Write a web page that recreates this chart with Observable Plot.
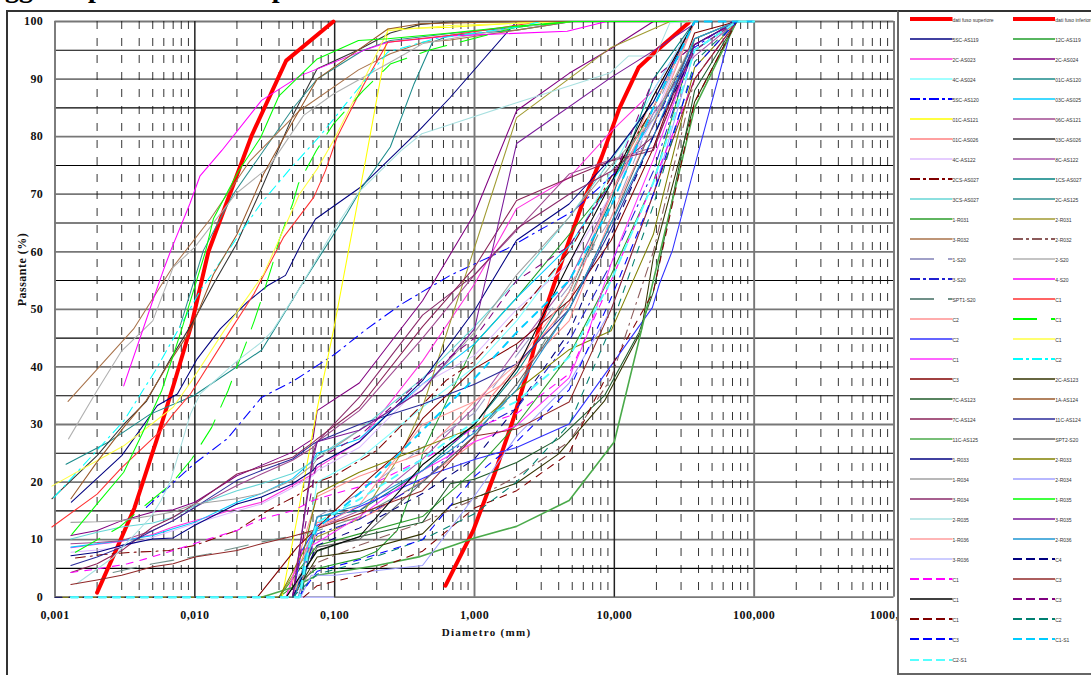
<!DOCTYPE html>
<html><head><meta charset="utf-8">
<script src="https://cdn.jsdelivr.net/npm/d3@7"></script>
<script src="https://cdn.jsdelivr.net/npm/@observablehq/plot@0.6"></script>
<style>
html,body{margin:0;padding:0;background:#fff;overflow:hidden}
#stage{position:relative;width:1091px;height:675px;overflow:hidden}
#title{position:absolute;left:-62px;top:-28px;font:bold 28px "Liberation Serif";word-spacing:5px;white-space:nowrap;line-height:32px}
#frame{position:absolute;left:6px;top:10px;width:892px;height:700px;border:solid #333;border-width:2px 0 2px 2px;box-sizing:border-box;pointer-events:none}
#legend{position:absolute;left:897px;top:10px;width:196px;height:665px;background:#fff;border:solid #666;border-width:2px 0 2px 2px;border-top-color:#333;box-sizing:border-box;overflow:hidden}
#rows{position:absolute;left:11px;top:-3px;display:grid;grid-template-columns:102.7px 90px;grid-auto-rows:20.03px;font:5px "Liberation Sans";color:#333}
.item{display:flex;align-items:center;white-space:nowrap}
.item svg{display:block;width:42.5px;height:6px;flex:none}
.item span{margin-top:1.5px}
</style></head><body><div id="stage"></div>
<script>
const titleText="Passaggi di provini di campioni";
const xTicks=[0.001,0.01,0.1,1,10,100,1000];
const xTickLabels=["0,001","0,010","0,100","1,000","10,000","100,000","1000,000"];
const yMajor=[0,10,20,30,40,50,60,70,80,90,100];
const yMinor=[5,15,25,35,45,55,65,75,85,95];
const xMinor=[2,3,4,5,6,7,8,9];
const H=[.0013,.002,.003,.005,.007,.01,.02,.03,.05,.07];
const S=[.075,.15,.425,1,2,4.75,9.5,19,37.5,75];
const onS=(lead,vals)=>[...lead,...vals.map((p,i)=>[S[i],p])];
const onHS=(low,vals)=>[...low.map((p,i)=>[H[i],p]),...vals.map((p,i)=>[S[i],p])];

const names=["dati fuso superiore","dati fuso inferiore","5SC-AS119","12C-AS119","2C-AS023","2C-AS024","4C-AS024","01C-AS120","5SC-AS120","03C-AS025","01C-AS121","06C-AS121","01C-AS026","03C-AS026","4C-AS122","8C-AS122","2CS-AS027","1CS-AS027","3CS-AS027","2C-AS125","1-R031","2-R031","3-R032","2-R032","1-S20","2-S20","3-S20","4-S20","SPT1-S20","C1","C2","C1","C2","C1","C1","C2","C3","2C-AS123","7C-AS123","1A-AS124","7C-AS124","11C-AS124","11C-AS125","SPT2-S20","1-R033","2-R033","1-R034","2-R034","3-R034","1-R035","2-R035","3-R035","1-R036","2-R036","3-R036","C4","C1","C3","C1","C3","C1","C2","C3","C1-S1","C2-S1"];
const colours=["#ff0000","#ff0000","#000080","#1f9e2a","#ff30e0","#800080","#80ffff","#1a8a8a","#0000ff","#00ccff","#ffff00","#a04a90","#ff8080","#333333","#ddbbff","#a855aa","#800000","#008080","#66d6d6","#2f8f8f","#2a9d2a","#a09a30","#a8724a","#8b5a5a","#a0a0c8","#b0b0b0","#2020d0","#ff00ff","#709088","#ff3030","#ff9090","#00ff00","#3030ff","#ffff40","#ff30ff","#00ffff","#800000","#333300","#1f5a2a","#99582a","#8a2258","#2a2a9a","#4aaa4a","#666666","#000080","#808000","#a0a0a0","#9f9fff","#8a2a6a","#00ff00","#a8e0e0","#7a1a9a","#ff9c9c","#1e96d2","#bbbbff","#000080","#ff00ff","#902828","#000000","#800080","#800000","#008070","#0000ff","#00ccff","#55ffff"];
const kinds=[,,,,,,,,"dd",,,,,,,,"dd",,,,,,,"dd","gap",,"dd",,"gap",,,"lime",,,,"dd",,,,,,,,,,,,,,,,,,,,"dash","dash",,,"dash","dash","dash","dash","dash","dash"];
const plotDash={dd:"10,5,2,5",gap:"24,14",lime:"28,14",dash:"7,7"};
const keyDash={dd:"10,3,3,3",gap:"24,14",lime:"24,14",dash:"9,4"};
const widths=names.map((n,i)=>i<2?4:(i===42||i===54)?1.6:i>=63?1.9:1.05);

const curves=[
/* fuso sup */[[.002,.8],[.00278,8.6],[.0037,15.5],[.0054,27.7],[.0072,37.6],[.0095,47.5],[.0125,60],[.0255,80.2],[.045,93.2],[.098,100]],
/* fuso inf */[[.62,2],[.98,11.6],[1.39,21.4],[1.9,31],[2.57,41.7],[2.86,46.3],[4.3,59],[5.9,68.3],[8.1,76.4],[10.9,85],[14.9,92],[19.4,94.6],[34,99.8]],
/* 5SC-AS119 */[[.00131,16.5],[.003,24.6],[.0054,33.3],[.0075,35.3],[.0104,41.4],[.0152,46.6],[.0236,51.2],[.033,54.1],[.0445,55.9],[.06,62.2],[.073,65.7],[.153,71.2],[.41,81.3],[.67,86.8],[2,100],[37.5,100]],
/* 12C-AS119 */[[.04,0],[.075,5],[.15,6.7],[.2,8],[.28,11.6],[.35,18],[.4,22],[.43,25.5],[1,44],[2,52],[4.75,63],[9.5,72],[19,85],[37.5,100]],
/* 2C-AS023 */onHS([8.6,9.2,9.7,10.9,12.2,13.3,15.4,16.5,19.4,21.4],[22.5,27,41,54.4,67.5,72.9,80.9,88,100]),
/* 2C-AS024 */onHS([10.7,11.6,13.3,14.8,15.2,16.5,21.1,22.9,25.2,27.5],[32.4,37.2,51.5,66.6,84.5,91,95.3,100]),
/* 4C-AS024 */onS([[.055,0],[.062,8]],[20,24,33,40,48,60,74,88,100]),
/* 01C-AS120 */[[.0012,23.1],[.0024,26.9],[.0048,31.8],[.0098,35],[.03,42.9],[.0366,46.3],[.0585,54.4],[.122,66.6],[.16,71.5],[.25,78.2],[.37,89.2],[.5,96.4],[.67,97.6],[2,98.5],[5,100],[37.5,100]],
/* 5SC-AS120 */[[.0045,15.6],[.0098,23.1],[.017,27.5],[.03,34.7],[.051,37.6],[.1,42.2],[.17,46.6],[.3,50.9],[.67,55.9],[1.7,60.5],[5.1,67.1],[8.5,72],[16,78.1],[35,95],[70,100]],
/* 03C-AS025 */onHS([8.7,9.3,9.8,10.7,11.9,13,16.5,18,20.6,23.8],[25,27.5,37,44,52,61,72,83,95,100]),
/* 01C-AS121 */[[.042,0],[.054,13.8],[.0745,32.4],[.098,46.3],[.166,75.8],[.22,92],[.24,98.7],[.67,99],[3,100],[37.5,100]],
/* 06C-AS121 */onHS([9.3,9.5,9.8,11.6,13.3,15.6,19.4,21.4,23.8,26],[27,32.4,45,56,63.7,73.5,76,78.1,95,100]),
/* 01C-AS026 */[[.045,0],[.075,13],[.15,13.6],[.2,15],[.425,20.3],[1,26.9],[1.3,34.7],[2,40],[4.75,51],[9.5,70],[19,87],[37.5,100]],
/* 03C-AS026 */[[.00095,17.1],[.002,24.6],[.0031,30],[.0045,34],[.0067,41.4],[.0098,48],[.0136,54.4],[.0199,61.4],[.0295,70.6],[.051,84],[.075,91.8],[.146,95],[.25,98],[.41,99.5],[.67,99.9],[5,100],[37.5,100]],
/* 4C-AS122 */onHS([7.8,8.2,8.7,10.4,11.6,12.8,15,16.2,19,21.1],[22,26,37,42,50,58,70,83,100]),
/* 8C-AS122 */onS([[.055,0]],[12,15,24,33,43,55,70,84,94,100]),
/* 2CS-AS027 */[[.0014,6.8],[.0022,7.4],[.0036,7.8],[.0065,8.1],[.01,9],[.02,11.6],[.033,15],[.054,17.7],[.075,20],[.1,21.1],[.2,25.5],[.63,37.7],[1,41],[2,49],[4.75,60],[9.5,73],[19,85],[37.5,100]],
/* 1CS-AS027 */onS([[.057,0]],[14,15,22,30,39,53,69,90,100]),
/* 3CS-AS027 */onHS([10.1,11.3,12.2,12.9,13.9,15.9,18.5,19.7,21.5,23.5],[24.5,29,38,47,55,66,76,86,100]),
/* 2C-AS125 */[[.0078,46.9],[.0115,60.2],[.0188,70],[.051,85.1],[.075,90],[.16,95],[.25,96.7],[.67,97.9],[2,99],[5,100],[37.5,100]],
/* 1-R031 */onS([[.04,0]],[9,11,14,22,30,42,56,72,97,100]),
/* 2-R031 */[[.04,0],[.075,10.5],[.15,13.6],[.3,25],[.425,33],[1,60.7],[2,83.3],[9.5,95.5],[25,100],[37.5,100]],
/* 3-R032 */[[.00124,34],[.00365,46.6],[.0068,57],[.0129,65.7],[.0248,75.8],[.056,84.5],[.148,91.6],[.25,94.4],[.43,96.4],[.67,96.8],[2,98.5],[5,100],[37.5,100]],
/* 2-R032 */onS([[.05,0]],[6,9,13,17,21,27,38,60,90,100]),
/* 1-S20 */onS([[.05,0]],[14,18,26,32,42,54,66,84,100]),
/* 2-S20 */[[.00125,27.5],[.002,35.9],[.003,42.8],[.005,48],[.007,57.3],[.01,60.8],[.0195,70],[.0338,74.7],[.06,83.7],[.098,87.4],[.3,94],[.43,96.2],[.67,97],[2,99],[5,100],[37.5,100]],
/* 3-S20 */onS([[.05,0]],[11,13.5,20,29,32.8,44.5,58,74,96,100]),
/* 4-S20 */[[.0031,36.7],[.005,51.5],[.006,57],[.0068,60.5],[.0092,68.3],[.0109,73.2],[.0156,77.6],[.03,86.3],[.057,90.6],[.17,95.2],[.24,96.4],[.67,97.5],[4.6,98.3],[8.8,100],[37.5,100]],
/* SPT1-S20 */[[.0026,4.3],[.005,5.8],[.0125,7.5],[.03,9.6],[.07,11.3],[.15,14],[.425,20],[1,28],[2,36],[4.75,52],[9.5,68],[19,85],[37.5,100]],
/* C1 red */[[.00095,12.2],[.002,17.9],[.003,22.5],[.0057,28.9],[.007,31.8],[.0093,35.3],[.0179,46.3],[.0265,52.7],[.043,62.5],[.071,69.5],[.086,74.1],[.104,79.9],[.16,88.9],[.24,96.4],[.67,97.6],[3,100],[37.5,100]],
/* C2 salmon */onS([[.045,0]],[17.5,21,25,34,38.5,48,66,82,100]),
/* C1 lime */[[.0014,7.8],[.0029,12.2],[.0045,16.1],[.0068,19.7],[.0095,24],[.0132,29.5],[.0173,35.9],[.02,40],[.0234,44.3],[.0266,48],[.03,51.8],[.036,57.9],[.04,62],[.05,68.3],[.055,71.8],[.074,77.6],[.098,82.2],[.16,88],[.25,92.6],[.47,95],[.67,96],[2,99],[5,100],[37.5,100]],
/* C2 blue */[[.05,0],[.058,8],[.075,12.5],[.1,13.9],[.2,17],[.5,21.4],[1,23.9],[2,26],[4.75,30.1],[10,41],[18.7,50.3],[21,54.4],[26,60.2],[39,76.4],[71,100]],
/* C1 yellow */[[.00095,19.3],[.0031,26.3],[.007,33],[.0095,37.6],[.0162,46.3],[.031,56.1],[.056,70],[.075,74.4],[.098,79.3],[.137,86.3],[.24,98.4],[.67,99.3],[5,100],[37.5,100]],
/* C1 magenta */[[.045,0],[.058,8],[.075,9.5],[.15,14],[.425,22],[1,27],[2,29.8],[4.75,38.1],[6.5,46],[9.5,58],[19,76],[37.5,96],[75,100]],
/* C2 cyan */[[.00098,17.3],[.0031,30.6],[.0052,39.3],[.0109,53.2],[.0195,62],[.0295,68.3],[.048,74.4],[.079,80.2],[.137,87.4],[.24,94.7],[.52,97],[2,99],[3,100],[37.5,100]],
/* C3 dark red */[[.028,0],[.054,8.7],[.1,15],[.16,19.7],[.3,25.5],[.425,31],[1,39.7],[2,44],[4.75,51.5],[9.5,62],[19,78],[37.5,98],[75,100]],
/* 2C-AS123 */[[.05,0],[.075,7],[.15,8],[.425,11],[.67,15.9],[2,19.8],[4,24.9],[8.5,34.1],[15.6,46.3],[19,59],[37.5,86],[75,100]],
/* 7C-AS123 */[[.045,0],[.075,8],[.15,10.5],[.425,13],[.67,19.7],[1,20.5],[2,23.4],[4,27.5],[8.5,35],[15,46],[19,53],[37.5,88],[75,100]],
/* 1A-AS124 */[[.0013,17.1],[.002,23.5],[.0031,29.5],[.0045,34.2],[.0067,41.1],[.0093,46.3],[.0136,56.1],[.02,63],[.031,73.5],[.046,81],[.075,90],[.24,98.7],[.41,99.6],[2,100],[37.5,100]],
/* 7C-AS124 */onHS([4.3,5.8,8.1,12.2,13.9,16.2,21.4,22.6,24.3,26.9],[27.5,33,47,57.3,68.9,72.8,75.8,77.6,96,100]),
/* 11C-AS124 */onHS([5.5,7,8.7,11.6,13.3,15.6,20.3,22,24,26.6],[27,30,33.5,37,40.5,50,64,80,96,100]),
/* 11C-AS125 */[[.03,0],[.05,1.7],[.075,3.8],[.2,5.5],[.4,7],[.7,9],[1,10.3],[2,12.3],[4.75,16.8],[10,27],[15.6,46.3],[19,55],[37.5,85],[75,100]],
/* SPT2-S20 */onS([[.05,0]],[8.7,10,20,28,37,50,65,82,97,100]),
/* 1-R033 */onHS([7.2,7.8,9,10.1,10.3,12.5,16.2,17.4,19.7,22],[23,27,37.6,49.8,62,68.3,76.3,86,100]),
/* 2-R033 */[[.001,0],[.0013,0],[.04,0],[.06,8],[.075,18],[.15,21.7],[.425,26],[1,29.5],[2,35.9],[4.75,43],[9.5,46.3],[19,63],[37.5,92],[75,100]],
/* 1-R034 */onHS([13,13.1,13.3,14.2,14.8,16.2,17.1,18,20.3,23],[24,29,36,46,56,66,75,83,97,100]),
/* 2-R034 */[[.057,0],[.068,3.8],[.1,3.8],[.425,5.5],[.93,16.5],[2,28],[4.75,37.2],[9.5,50],[19,70],[37.5,95],[75,100]],
/* 3-R034 */onS([[.05,0],[.07,25]],[27,34.7,49,56,64,70,74,80,95,100]),
/* 1-R035 */[[.00132,10.9],[.002,16.2],[.0031,21.7],[.0042,28.4],[.0058,35.9],[.008,46.3],[.0119,60],[.0136,65.8],[.0205,74],[.0295,79.8],[.04,87.1],[.075,93.5],[.148,96.7],[.24,97],[.67,98],[2,99.2],[5,100],[37.5,100]],
/* 2-R035 */[[.00142,2.3],[.0026,6.9],[.0048,13.8],[.0057,16.7],[.0067,20.2],[.0093,31.8],[.0109,35.3],[.02,41],[.03,44.3],[.036,46.3],[.0565,53.8],[.098,63.7],[.148,70.3],[.3,77.6],[.42,80.5],[.67,82.1],[2,85.9],[9.4,91.1],[12.6,94],[19.7,94],[25,99.8],[37.5,100]],
/* 3-R035 */[[.05,0],[.07,24],[.075,27],[.15,29],[.425,36],[1,46.6],[2,78.8],[9.5,90.3],[19,94.9],[37.5,99.6]],
/* 1-R036 */onS([[.05,0]],[12,16,30,34,40.5,53,70,85,100]),
/* 2-R036 */onS([[.052,0]],[13.9,16,22,28.6,36,50,65,80,97,100]),
/* 3-R036 */[[.055,0],[.098,0]],
/* C4 */[[.001,0],[.0013,0],[.05,0],[.075,9],[.15,12],[.425,18],[1,24],[2,33],[4.75,46],[9.5,63],[19,80],[37.5,95],[75,100]],
/* C1 magenta dash */[[.0013,4.3],[.002,4.9],[.0033,5.8],[.0045,6.7],[.007,8.1],[.0125,10.1],[.02,11.6],[.03,13.6],[.05,15],[.07,16.8],[.1,18],[.2,20],[.6,25.8],[1,29.5],[2,31.9],[4.75,38.8],[9.5,55],[19,72],[37.5,90],[75,100]],
/* C3 indian */onHS([2.2,3,3.8,5.3,5.8,7,8.1,9.3,10.6,11.6],[11.9,14.5,18.5,28,29.2,33.9,50,70,90,100]),
/* C1 black */onS([[.045,0]],[8.1,10.5,23,30,39.7,58,72,87,100]),
/* C3 purple dash */onS([[.05,0]],[24,28,38,45,55,61,72,90,96,100]),
/* C1 dark red dash */[[.06,0],[.075,2],[.15,3.8],[.425,8],[1,15.5],[2,18.5],[4.75,25],[5.9,30],[9.5,40],[19,53],[37.5,86],[75,100]],
/* C2 teal dash */onS([[.05,0]],[4,6,10,14.5,20,30,47,68,93,100]),
/* C3 blue dash */onS([[.055,0]],[4.5,6.5,10,21,27,36,52,70,92,100]),
/* C1-S1 */[[.0013,0],[.056,0],[.062,7],[.075,12],[.15,18],[.425,29],[1,38],[2,46],[4.75,55],[9.5,68],[19,85],[37.5,100],[100,100]],
/* C2-S1 */[[.0013,0],[.056,0],[.066,9],[.075,13],[.15,17],[.425,24],[1,30.5],[2,34],[4.75,41.7],[9.5,55],[19,72],[37.5,95],[75,100],[100,100]]
];

const minorX=xTicks.slice(0,-1).flatMap(t=>xMinor.map(m=>t*m));
const plot=Plot.plot({
  width:1091,height:675,marginLeft:54.5,marginRight:197.5,marginTop:21,marginBottom:78.3,
  style:{background:"#fff",overflow:"visible",fontFamily:'"Liberation Serif"'},
  x:{type:"log",domain:[0.001,1000]},
  y:{domain:[0,100]},
  marks:[
    Plot.ruleY(yMinor,{stroke:"#000",strokeWidth:1.1}),
    Plot.ruleY(yMajor,{stroke:"#777",strokeWidth:1.8}),
    Plot.ruleX(minorX,{stroke:"#111",strokeWidth:1,strokeDasharray:"8,9",strokeOpacity:.85}),
    Plot.ruleX([0.01,0.1,10],{stroke:"#222",strokeWidth:1.5}),
    Plot.ruleX([0.001,1,100,1000],{stroke:"#777",strokeWidth:1.9}),
    ...curves.map((pts,i)=>Plot.line(pts,{x:d=>d[0],y:d=>d[1],stroke:colours[i],strokeWidth:widths[i],strokeDasharray:plotDash[kinds[i]],strokeLinejoin:"round",clip:false})),
    Plot.axisX({ticks:xTicks,tickFormat:d=>xTickLabels[xTicks.indexOf(d)],tickSize:0,tickPadding:13,label:null,fontSize:12,fontWeight:"bold",fill:"#111"}),
    Plot.axisY({ticks:yMajor,tickFormat:d=>d,tickSize:0,tickPadding:12,label:null,fontSize:12,fontWeight:"bold",fill:"#111"}),
    Plot.text(["Diametro (mm)"],{frameAnchor:"bottom",dx:12,dy:39,fontSize:11,fontWeight:"bold",fill:"#111"}),
    Plot.text(["Passante (%)"],{frameAnchor:"left",rotate:-90,dx:-33,dy:-3,fontSize:12,fontWeight:"bold",fill:"#111"})
  ]
});
plot.querySelectorAll("text").forEach(t=>{t.style.fontFamily='"Liberation Serif"';t.style.fontWeight="bold";
  const s=t.textContent;
  if(s.startsWith("Diam"))t.style.letterSpacing="1.3px";
  else if(s.startsWith("Pass"))t.style.letterSpacing=".5px";
  else if(s.includes(","))t.style.letterSpacing=".45px";
  else t.style.letterSpacing=".3px";
});

const stage=document.getElementById("stage");
stage.appendChild(plot);
const title=document.createElement("div");title.id="title";title.textContent=titleText;stage.appendChild(title);
const frame=document.createElement("div");frame.id="frame";stage.appendChild(frame);
const legend=document.createElement("div");legend.id="legend";
const rows=document.createElement("div");rows.id="rows";legend.appendChild(rows);
names.forEach((n,i)=>{
  const it=document.createElement("div");it.className="item";
  const w=i<2?4:(kinds[i]?2:1.7);
  const dash=keyDash[kinds[i]];
  it.innerHTML=`<svg><line x1="0" x2="42.5" y1="3" y2="3" stroke="${colours[i]}" stroke-width="${w}" ${dash?`stroke-dasharray="${dash}"`:""}/></svg><span>${n}</span>`;
  rows.appendChild(it);
});
stage.appendChild(legend);
</script></body></html>
